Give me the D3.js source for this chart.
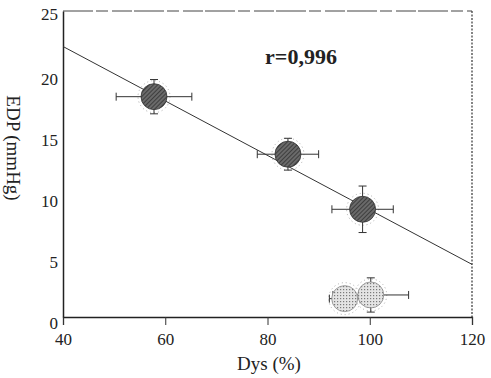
<!DOCTYPE html>
<html>
<head>
<meta charset="utf-8">
<script src="https://cdn.jsdelivr.net/npm/d3@7"></script>
<style>
  body { margin: 0; background: #fff; }
  svg text { font-family: "Liberation Serif", "DejaVu Serif", serif; fill: #222; }
</style>
</head>
<body>
<div id="chart"></div>
<script>
let width = 491, height = 378;
let margin = {left: 63, right: 19, top: 11, bottom: 61};

// data
let dys    = [57.8, 84.0, 98.6, 95.1, 100.2];
let edp    = [18.0, 13.3, 8.8, 1.5, 1.8];
let dysErr = [7.4, 6.0, 6.0, 3.0, 7.4];
let edpErr = [1.4, 1.3, 1.9, 0, 1.4];
let group  = ["dark", "dark", "dark", "light", "light"];
let xTicks = [40, 60, 80, 100, 120];
let yTicks = [0, 5, 10, 15, 20, 25];
let fit = {intercept: 31.0, slope: -0.2225};

let data = dys.map((d, i) => ({x: d, y: edp[i], ex: dysErr[i], ey: edpErr[i], g: group[i]}));

let xScale = d3.scaleLinear().domain([40, 120]).range([margin.left, width - margin.right]);
let yScale = d3.scaleLinear().domain([0, 25]).range([height - margin.bottom, margin.top]);

let svg = d3.select("#chart").append("svg")
    .attr("width", width)
    .attr("height", height);

// hatch patterns for the markers
let defs = svg.append("defs");
let hatch = defs.append("pattern")
    .attr("id", "hatch").attr("patternUnits", "userSpaceOnUse")
    .attr("width", 3).attr("height", 3)
    .attr("patternTransform", "rotate(45)");
hatch.append("rect").attr("width", 3).attr("height", 3).attr("fill", "#6a6a6a");
hatch.append("line").attr("x1", 0).attr("y1", 0).attr("x2", 0).attr("y2", 3)
    .attr("stroke", "#2a2a2a").attr("stroke-width", 1.4);

let dots = defs.append("pattern")
    .attr("id", "dots").attr("patternUnits", "userSpaceOnUse")
    .attr("width", 3).attr("height", 3);
dots.append("rect").attr("width", 3).attr("height", 3).attr("fill", "#e4e4e4");
dots.append("rect").attr("x", 1).attr("y", 1).attr("width", 1.2).attr("height", 1.2).attr("fill", "#7a7a7a");

// frame: top and right are faint, left and bottom are the axes
let x0 = xScale(40), x1 = xScale(120), y0 = yScale(0), y1 = yScale(25);
svg.append("line").attr("x1", x0).attr("x2", x1).attr("y1", y1).attr("y2", y1)
    .attr("stroke", "#444").attr("stroke-width", 1).attr("stroke-dasharray", "30,3,12,4,20,2");
svg.append("line").attr("x1", x1).attr("x2", x1).attr("y1", y1).attr("y2", y0)
    .attr("stroke", "#444").attr("stroke-width", 1.3).attr("stroke-dasharray", "2,1.5");

let xAxis = d3.axisBottom(xScale).tickValues(xTicks).tickSize(8).tickPadding(8);
let gx = svg.append("g")
    .attr("transform", "translate(0," + y0 + ")")
    .call(xAxis);
gx.select(".domain").attr("stroke", "#222").attr("stroke-width", 1.3);
gx.selectAll(".tick line").attr("stroke", "#333");
gx.selectAll(".tick text").attr("font-size", "17px").attr("fill", "#222")
    .attr("font-family", "Liberation Serif, serif");

let yAxis = d3.axisLeft(yScale).tickValues(yTicks).tickSize(0).tickPadding(5);
let gy = svg.append("g")
    .attr("transform", "translate(" + x0 + ",0)")
    .call(yAxis);
gy.select(".domain").attr("stroke", "#222").attr("stroke-width", 1.5);
gy.selectAll(".tick text").attr("font-size", "17px").attr("fill", "#222")
    .attr("dy", "0.7em")
    .attr("font-family", "Liberation Serif, serif");
gy.select(".tick:last-of-type text").attr("dy", "0.5em");

// regression line
svg.append("line")
    .attr("x1", xScale(40)).attr("y1", yScale(fit.intercept + fit.slope * 40))
    .attr("x2", xScale(120)).attr("y2", yScale(fit.intercept + fit.slope * 120))
    .attr("stroke", "#333").attr("stroke-width", 1);

// faint speckled halo round each marker
svg.selectAll("circle.halo").data(data).enter().append("circle")
    .attr("class", "halo")
    .attr("cx", d => xScale(d.x))
    .attr("cy", d => yScale(d.y))
    .attr("r", 16)
    .attr("fill", "none")
    .attr("stroke", "#aaa")
    .attr("stroke-width", 1)
    .attr("stroke-dasharray", "1,3");

// error bars
let eb = svg.selectAll(".eb").data(data).enter().append("g").attr("class", "eb")
    .attr("stroke", "#333").attr("stroke-width", 1);
eb.append("line")
    .attr("x1", d => xScale(d.x - d.ex)).attr("x2", d => xScale(d.x + d.ex))
    .attr("y1", d => yScale(d.y)).attr("y2", d => yScale(d.y));
eb.append("line")
    .attr("x1", d => xScale(d.x - d.ex)).attr("x2", d => xScale(d.x - d.ex))
    .attr("y1", d => yScale(d.y) - 4).attr("y2", d => yScale(d.y) + 4);
eb.append("line")
    .attr("x1", d => xScale(d.x + d.ex)).attr("x2", d => xScale(d.x + d.ex))
    .attr("y1", d => yScale(d.y) - 4).attr("y2", d => yScale(d.y) + 4);
eb.filter(d => d.ey > 0).append("line")
    .attr("x1", d => xScale(d.x)).attr("x2", d => xScale(d.x))
    .attr("y1", d => yScale(d.y - d.ey)).attr("y2", d => yScale(d.y + d.ey));
eb.filter(d => d.ey > 0).append("line")
    .attr("x1", d => xScale(d.x) - 4).attr("x2", d => xScale(d.x) + 4)
    .attr("y1", d => yScale(d.y + d.ey)).attr("y2", d => yScale(d.y + d.ey));
eb.filter(d => d.ey > 0).append("line")
    .attr("x1", d => xScale(d.x) - 4).attr("x2", d => xScale(d.x) + 4)
    .attr("y1", d => yScale(d.y - d.ey)).attr("y2", d => yScale(d.y - d.ey));

// markers
svg.selectAll("circle.pt").data(data).enter().append("circle")
    .attr("class", "pt")
    .attr("cx", d => xScale(d.x))
    .attr("cy", d => yScale(d.y))
    .attr("r", 13)
    .attr("fill", d => d.g == "dark" ? "url(#hatch)" : "url(#dots)")
    .attr("stroke", d => d.g == "dark" ? "#333" : "#888")
    .attr("stroke-width", 0.8);

// labels
svg.append("text")
    .attr("x", 301).attr("y", 64)
    .attr("text-anchor", "middle")
    .attr("font-size", "22px").attr("font-weight", "bold")
    .text("r=0,996");

svg.append("text")
    .attr("transform", "translate(7,148) rotate(90)")
    .attr("text-anchor", "middle")
    .attr("font-size", "19px")
    .text("EDP (mmHg)");

svg.append("text")
    .attr("x", 269).attr("y", 370)
    .attr("text-anchor", "middle")
    .attr("font-size", "19px")
    .text("Dys (%)");
</script>
</body>
</html>
